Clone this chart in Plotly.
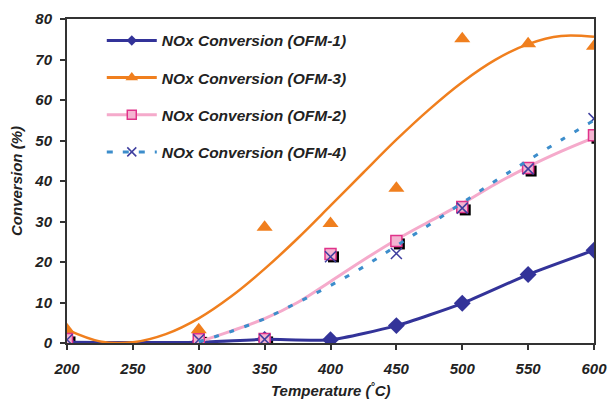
import plotly.graph_objects as go

# ---- data ----
temps = [200, 300, 350, 400, 450, 500, 550, 600]
ofm1 = [0.2, 0.2, 0.9, 0.8, 4.3, 9.8, 16.9, 22.9]
ofm3 = [3.3, 3.3, 28.6, 29.5, 38.2, 75.1, 73.9, 73.3]
ofm2 = [1.0, 0.9, 1.0, 22.0, 25.2, 33.6, 43.2, 51.3]
ofm4 = [0.8, 0.8, 0.9, 21.3, 22.1, 33.3, 43.0, 55.4]

# trend curves as drawn in the reference
trend3_x = [200, 225, 250, 275, 300, 325, 350, 375, 400, 425, 450, 475, 500, 525, 550, 575, 600]
trend3_y = [3.3, 0.4, 0.2, 2.2, 6.1, 11.6, 18.3, 25.8, 33.9, 42.1, 50.2, 57.7, 64.4, 69.9, 73.8, 75.8, 75.6]
trend_x = [300, 325, 350, 375, 400, 425, 450, 475, 500, 525, 550, 575, 600]
trend2_y = [0.3, 3.0, 6.0, 10.0, 15.2, 20.5, 25.5, 30.0, 34.4, 39.2, 43.5, 47.3, 50.7]
trend4_y = [0.3, 2.9, 6.0, 10.0, 14.2, 18.8, 24.0, 29.2, 34.6, 40.0, 45.1, 50.1, 55.0]

names = ["NOx Conversion (OFM-1)", "NOx Conversion (OFM-3)",
         "NOx Conversion (OFM-2)", "NOx Conversion (OFM-4)"]
x_ticks = [200, 250, 300, 350, 400, 450, 500, 550, 600]
y_ticks = [0, 10, 20, 30, 40, 50, 60, 70, 80]
x_title = "Temperature (<sup>°</sup>C)"
y_title = "Conversion (%)"

NAVY = "#333399"
ORANGE = "#F07F1E"
PINK_LINE = "#F5AACB"
PINK_FILL = "#F4B4D1"
MAGENTA = "#E0338A"
BLUE = "#3C8DCB"
XCOL = "#3F3F9F"

FONT = "Liberation Sans"
fig = go.Figure()

# shadows of the squares (on shifted base axes)
fig.add_trace(go.Scatter(x=temps, y=ofm2, mode="markers", xaxis="x", yaxis="y",
                         marker=dict(symbol="square", size=11, color="black"),
                         showlegend=False, hoverinfo="skip"))

common = dict(xaxis="x2", yaxis="y2", showlegend=False)
fig.add_trace(go.Scatter(x=temps, y=ofm1, mode="lines+markers", line=dict(color=NAVY, width=3, shape="spline", smoothing=0.6),
                         marker=dict(symbol="diamond", size=13, color=NAVY), **common))
fig.add_trace(go.Scatter(x=trend3_x, y=trend3_y, mode="lines", line=dict(color=ORANGE, width=2.5, shape="spline"), **common))
fig.add_trace(go.Scatter(x=temps, y=ofm3, mode="markers",
                         marker=dict(symbol="triangle-up", size=14, color=ORANGE), **common))
fig.add_trace(go.Scatter(x=trend_x, y=trend2_y, mode="lines", line=dict(color=PINK_LINE, width=3, shape="spline"), **common))
fig.add_trace(go.Scatter(x=temps, y=ofm2, mode="markers",
                         marker=dict(symbol="square", size=11, color=PINK_FILL, line=dict(color=MAGENTA, width=1.5)), **common))
fig.add_trace(go.Scatter(x=temps, y=ofm4, mode="markers",
                         marker=dict(symbol="x-thin", size=11, color=XCOL, line=dict(color=XCOL, width=1.5)), **common))
fig.add_trace(go.Scatter(x=trend_x, y=trend4_y, mode="lines", line=dict(color=BLUE, width=3, dash="5px,11px", shape="spline"), **common))

# legend entries
leg = [
    dict(line=dict(color=NAVY, width=3), marker=dict(symbol="diamond", size=8, color=NAVY)),
    dict(line=dict(color=ORANGE, width=3), marker=dict(symbol="triangle-up", size=11, color=ORANGE)),
    dict(line=dict(color=PINK_LINE, width=3), marker=dict(symbol="square", size=9, color=PINK_FILL, line=dict(color=MAGENTA, width=1.5))),
    dict(line=dict(color=BLUE, width=3, dash="6px,10px"), marker=dict(symbol="x-thin", size=9, color=XCOL, line=dict(color=XCOL, width=1.5))),
]
for i, (nm, st) in enumerate(zip(names, leg)):
    fig.add_trace(go.Scatter(x=[None], y=[None], mode="lines+markers", name=nm,
                             legendgroup=f"g{i}", xaxis="x2", yaxis="y2", **st))

dx = 3 / 1.32
dy = 3 / 4.05
axis_font = dict(family=FONT, size=15, color="#222222")
fig.update_layout(
    width=608, height=400,
    margin=dict(l=67, r=14, t=19, b=57, autoexpand=False),
    paper_bgcolor="white", plot_bgcolor="white",
    font=dict(family=FONT, color="#222222"),
    xaxis=dict(range=[200 - dx, 600 - dx], visible=False, fixedrange=True, automargin=False),
    yaxis=dict(range=[0 + dy, 80 + dy], visible=False, fixedrange=True, automargin=False),
    xaxis2=dict(overlaying="x", side="bottom", range=[200, 600], tickvals=x_ticks,
                ticktext=[f"<b><i>{v}</i></b>" for v in x_ticks],
                ticks="outside", ticklen=5, tickwidth=1.5, tickcolor="#333333",
                showline=True, linecolor="#333333", linewidth=2, mirror=True,
                showgrid=False, zeroline=False, tickfont=axis_font, ticklabelstandoff=6,
                ticklabeloverflow="allow", automargin=False),
    yaxis2=dict(overlaying="y", side="left", range=[0, 80], tickvals=y_ticks,
                ticktext=[f"<b><i>{v}</i></b>" for v in y_ticks],
                ticks="outside", ticklen=5, tickwidth=1.5, tickcolor="#333333",
                showline=True, linecolor="#333333", linewidth=2, mirror=True,
                showgrid=False, zeroline=False, tickfont=axis_font, ticklabelstandoff=5,
                ticklabeloverflow="allow", automargin=True,
                title=dict(text=f"<b><i>{y_title}</i></b>", font=dict(family=FONT, size=15, color="#222222"), standoff=8)),
    legend=dict(x=0.066, y=0.985, xanchor="left", yanchor="top",
                traceorder="grouped", tracegroupgap=14, itemwidth=50,
                font=dict(family=FONT, size=15.5, color="#222222", style="italic", weight="bold"),
                bgcolor="rgba(0,0,0,0)"),
    annotations=[dict(text=f"<b><i>{x_title}</i></b>", xref="paper", yref="paper",
                      x=0.5, y=-0.142, xanchor="center", yanchor="middle", showarrow=False,
                      font=dict(family=FONT, size=15, color="#222222"))],
)

fig.write_html("out.html", config={"displayModeBar": False},
               post_script="document.body.style.margin='0px';")
